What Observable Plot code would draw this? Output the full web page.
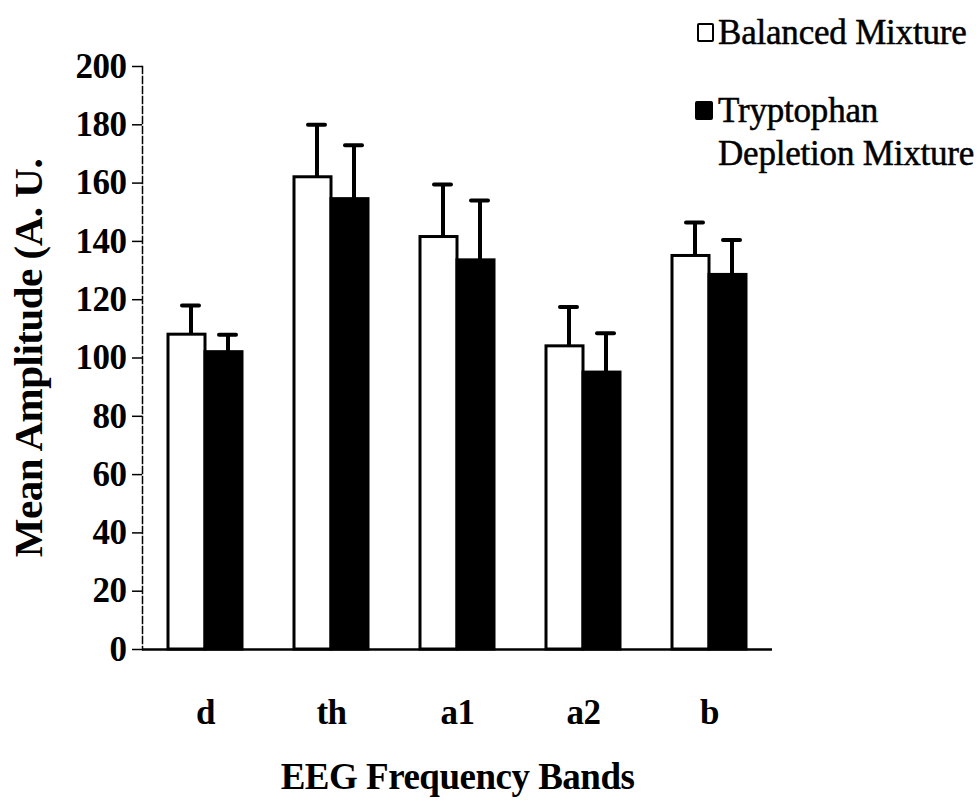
<!DOCTYPE html>
<html>
<head>
<meta charset="utf-8">
<script src="https://cdn.jsdelivr.net/npm/d3@7"></script>
<script src="https://cdn.jsdelivr.net/npm/@observablehq/plot@0.6"></script>
<style>
  body { margin: 0; background: #fff; }
  #wrap { position: relative; width: 979px; height: 800px; font-family: "Liberation Serif", "Times New Roman", serif; background: #fff; }
  .leg { position: absolute; left: 718px; font-family: "Liberation Serif", "Times New Roman", serif; font-size: 35px; letter-spacing: -0.2px; line-height: 43px; color: #000; white-space: nowrap; -webkit-text-stroke: 0.5px #000; }
  .sw { position: absolute; box-sizing: border-box; border: 2.5px solid #000; border-radius: 2px; }
</style>
</head>
<body>
<div id="wrap">
  <div class="sw" style="left:697px;top:23px;width:17px;height:19px;background:#fff"></div>
  <div class="leg" id="leg0" style="top:11px"></div>
  <div class="sw" style="left:695px;top:101px;width:18px;height:19px;background:#000"></div>
  <div class="leg" id="leg1" style="top:89px;"></div>
</div>
<script>
const categories = ["d", "th", "a1", "a2", "b"];
const series = ["Balanced Mixture", "Tryptophan Depletion Mixture"];
const balancedMean = [108, 162, 141.5, 104, 135];
const balancedErr = [10, 18, 18, 13.5, 11.5];
const tryptophanMean = [102, 154.5, 133.5, 95, 128.5];
const tryptophanErr = [6, 18.5, 20.5, 13.5, 12];
const yTicks = [0, 20, 40, 60, 80, 100, 120, 140, 160, 180, 200];
const xTitle = "EEG Frequency Bands";
const yTitle = "Mean Amplitude (A. U.";

const data = [];
categories.forEach((c, i) => {
  data.push({band: c, group: series[0], mean: balancedMean[i], upper: balancedMean[i] + balancedErr[i]});
  data.push({band: c, group: series[1], mean: tryptophanMean[i], upper: tryptophanMean[i] + tryptophanErr[i]});
});

document.getElementById("leg0").textContent = series[0];
document.getElementById("leg1").innerHTML = "Tryptophan<br>Depletion Mixture";

const chart = Plot.plot({
  width: 979,
  height: 800,
  marginLeft: 142,
  marginRight: 207,
  marginTop: 66,
  marginBottom: 151,
  style: {fontFamily: "'Liberation Serif', 'Times New Roman', serif", color: "#000", background: "transparent", letterSpacing: "-0.5px"},
  fx: {domain: categories, padding: 0, label: null},
  x: {domain: series, paddingInner: 0, paddingOuter: 0.7, axis: null},
  y: {domain: [0, 200]},
  color: {domain: series, range: ["#fff", "#000"]},
  marks: [
    Plot.frame({anchor: "left", facetAnchor: "left", stroke: "#000", strokeWidth: 1.5, strokeDasharray: "7,3"}),
    Plot.axisY({ticks: yTicks, tickSize: 10, tickPadding: 6, fontSize: 35, fontWeight: "bold", label: null, tickFormat: d => String(d), stroke: "#000", strokeWidth: 1.5}),
    Plot.axisY({ticks: [], tickSize: 0, label: yTitle, labelAnchor: "center", labelArrow: "none", labelOffset: 130, fontSize: 41, fontWeight: "bold"}),
    Plot.axisFx({anchor: "bottom", tickSize: 0, tickPadding: 50, fontSize: 35, fontWeight: "bold", label: null}),
    Plot.axisFx({anchor: "bottom", ticks: [], tickSize: 0, label: xTitle, labelAnchor: "center", labelArrow: "none", labelOffset: 139, fontSize: 37, fontWeight: "bold"}),
    Plot.ruleX(data, {fx: "band", x: "group", y1: "mean", y2: "upper", stroke: "#000", strokeWidth: 4, dx: 4}),
    Plot.tickY(data, {fx: "band", x: "group", y: "upper", stroke: "#000", strokeWidth: 4, strokeLinecap: "round", insetLeft: 10, insetRight: 10, dx: 4}),
    Plot.barY(data, {fx: "band", x: "group", y: "mean", fill: "group", stroke: "#000", strokeWidth: 3}),
    Plot.ruleY([0], {stroke: "#000", strokeWidth: 2.5})
  ]
});
document.getElementById("wrap").appendChild(chart);
chart.style.position = "absolute";
chart.style.left = "0";
chart.style.top = "0";
</script>
</body>
</html>
